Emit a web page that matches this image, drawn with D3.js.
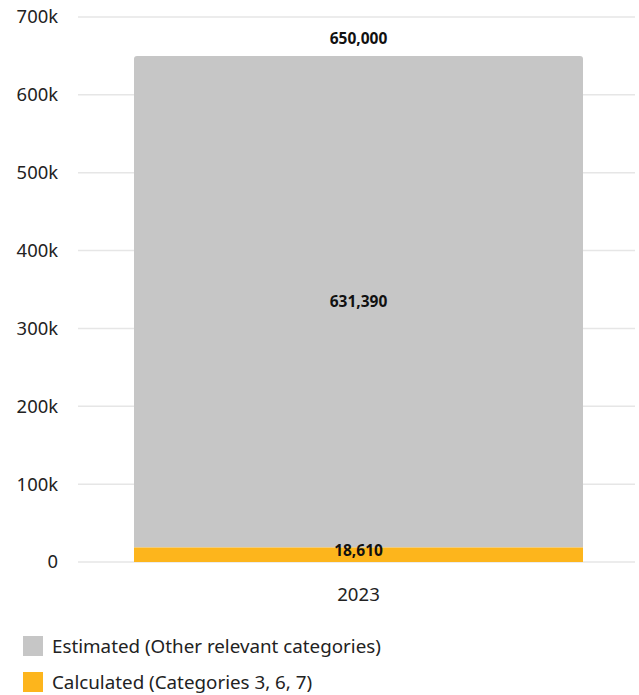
<!DOCTYPE html>
<html><head><meta charset="utf-8">
<script src="https://cdn.jsdelivr.net/npm/d3@7"></script>
<style>body{margin:0;background:#fff;}svg{display:block;font-family:"Noto Sans",sans-serif;}</style>
</head><body><svg id="c" width="639" height="695"></svg>
<script>
const categories = ["2023"];
const seriesNames = ["Calculated (Categories 3, 6, 7)", "Estimated (Other relevant categories)"];
const calculated = [18610];
const estimated = [631390];
const totals = [650000];
const yTicks = [0, 100000, 200000, 300000, 400000, 500000, 600000, 700000];
const yTickLabels = ["0", "100k", "200k", "300k", "400k", "500k", "600k", "700k"];
const colors = {calc: "#FDB51C", est: "#C6C6C6"};

const svg = d3.select("#c");
const x0 = 78, x1 = 635;
const y = d3.scaleLinear().domain([0, 700000]).range([562, 17]);
const x = d3.scaleBand().domain(categories).range([x0, 639]).paddingInner(0).paddingOuter(0.1247);

svg.append("g").selectAll("line").data(yTicks).join("line")
  .attr("x1", x0).attr("x2", x1).attr("y1", d => y(d)).attr("y2", d => y(d))
  .attr("stroke", "#e6e6e6").attr("stroke-width", 1.5);
svg.append("g").selectAll("text").data(yTicks).join("text")
  .attr("x", 58).attr("y", d => y(d)).attr("dy", "0.35em").attr("text-anchor", "end")
  .attr("font-size", 18.4).attr("fill", "#222").text((d, i) => yTickLabels[i]);

const bw = x.bandwidth();
categories.forEach((c, i) => {
  const bx = x(c);
  svg.append("path")
    .attr("d", () => {
      const top = y(calculated[i] + estimated[i]), bot = y(calculated[i]), r = 3;
      return `M${bx},${bot}V${top + r}Q${bx},${top} ${bx + r},${top}H${bx + bw - r}Q${bx + bw},${top} ${bx + bw},${top + r}V${bot}Z`;
    })
    .attr("fill", colors.est);
  svg.append("rect").attr("x", bx).attr("width", bw)
    .attr("y", y(calculated[i])).attr("height", y(0) - y(calculated[i]))
    .attr("fill", colors.calc);
  const cx = bx + bw / 2;
  const fmt = d3.format(",");
  svg.append("text").attr("x", cx).attr("y", y(totals[i]) - 12).attr("text-anchor", "middle")
    .attr("font-size", 15.5).attr("font-weight", "bold").attr("fill", "#111").text(fmt(totals[i]));
  svg.append("text").attr("x", cx).attr("y", y(calculated[i] + estimated[i] / 2)).attr("dy", "0.35em").attr("text-anchor", "middle")
    .attr("font-size", 15.5).attr("font-weight", "bold").attr("fill", "#111").text(fmt(estimated[i]));
  svg.append("text").attr("x", cx).attr("y", y(calculated[i] / 2) - 4).attr("dy", "0.35em").attr("text-anchor", "middle")
    .attr("font-size", 15.5).attr("font-weight", "bold").attr("fill", "#111").text(fmt(calculated[i]));
  svg.append("text").attr("x", cx).attr("y", 594).attr("dy", "0.35em").attr("text-anchor", "middle")
    .attr("font-size", 18.6).attr("fill", "#222").text(c);
});

const leg = [{n: seriesNames[1], c: colors.est}, {n: seriesNames[0], c: colors.calc}];
const lg = svg.append("g").selectAll("g").data(leg).join("g")
  .attr("transform", (d, i) => `translate(23,${636 + i * 36})`);
lg.append("rect").attr("width", 20).attr("height", 20).attr("fill", d => d.c);
lg.append("text").attr("x", 29).attr("y", 10).attr("dy", "0.35em").attr("font-size", 18.8).attr("fill", "#222").text(d => d.n);
</script></body></html>
